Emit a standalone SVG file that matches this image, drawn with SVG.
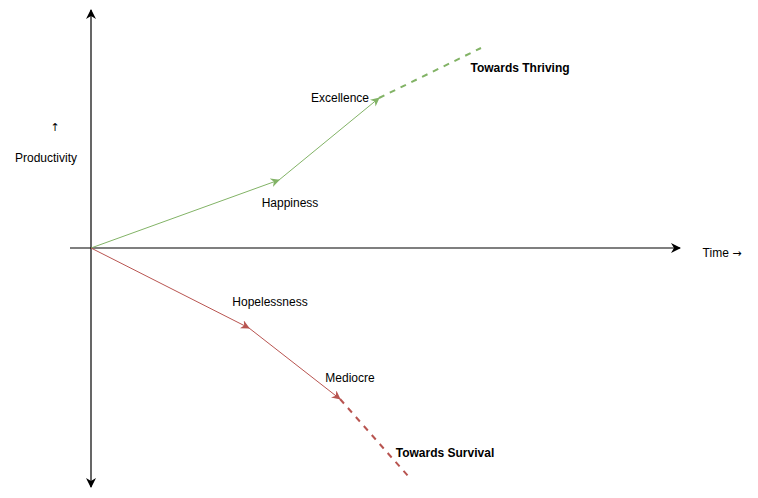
<svg xmlns="http://www.w3.org/2000/svg" width="758" height="498" viewBox="0 0 758 498">
<style>
text{font-family:"Liberation Sans",Arial,sans-serif;font-size:12px;fill:#000;text-anchor:middle}
.b{font-weight:bold}
.sym{font-family:"DejaVu Sans",sans-serif;font-size:11px}
.ax{stroke:#000;stroke-width:1.2;fill:none}
.g{stroke:#82b366;stroke-width:1;fill:none}
.r{stroke:#b85450;stroke-width:1;fill:none}
.gd{stroke:#82b366;stroke-width:2;fill:none;stroke-dasharray:6 6}
.rd{stroke:#b85450;stroke-width:2;fill:none;stroke-dasharray:6 6}
</style>
<defs>
<marker id="ak" viewBox="0 0 10 10" refX="9" refY="5" markerWidth="10" markerHeight="10" markerUnits="userSpaceOnUse" orient="auto-start-reverse"><path d="M0,0 L10,5 L0,10 L3,5 Z" fill="#000"/></marker>
<marker id="ag" viewBox="0 0 10 10" refX="9" refY="5" markerWidth="9" markerHeight="9" markerUnits="userSpaceOnUse" orient="auto"><path d="M0,0 L10,5 L0,10 L3,5 Z" fill="#82b366"/></marker>
<marker id="ar" viewBox="0 0 10 10" refX="9" refY="5" markerWidth="9" markerHeight="9" markerUnits="userSpaceOnUse" orient="auto"><path d="M0,0 L10,5 L0,10 L3,5 Z" fill="#b85450"/></marker>
</defs>
<g id="connectors">
<line class="ax" x1="91" y1="487" x2="91" y2="10" marker-start="url(#ak)" marker-end="url(#ak)"/>
<line class="ax" x1="70" y1="248" x2="680" y2="248" marker-end="url(#ak)"/>
<line class="g" x1="91" y1="248" x2="279" y2="180" marker-end="url(#ag)"/>
<line class="g" x1="279" y1="180" x2="379" y2="98" marker-end="url(#ag)"/>
<line class="gd" x1="379" y1="98" x2="481" y2="48"/>
<line class="r" x1="91" y1="248" x2="249" y2="328" marker-end="url(#ar)"/>
<line class="r" x1="249" y1="328" x2="340" y2="399" marker-end="url(#ar)"/>
<line class="rd" x1="340" y1="399" x2="408" y2="476"/>
</g>
<g id="productivity"><text class="sym" x="55" y="131">↑</text><text x="46" y="162">Productivity</text></g>
<g id="time"><text x="722" y="257">Time  <tspan class="sym">→</tspan></text></g>
<g id="happiness"><text x="290" y="207">Happiness</text></g>
<g id="excellence"><text x="340" y="102">Excellence</text></g>
<g id="thriving"><text class="b" x="520" y="72">Towards Thriving</text></g>
<g id="hopelessness"><text x="270" y="306">Hopelessness</text></g>
<g id="mediocre"><text x="350" y="382">Mediocre</text></g>
<g id="survival"><text class="b" x="445" y="457">Towards Survival</text></g>
</svg>
